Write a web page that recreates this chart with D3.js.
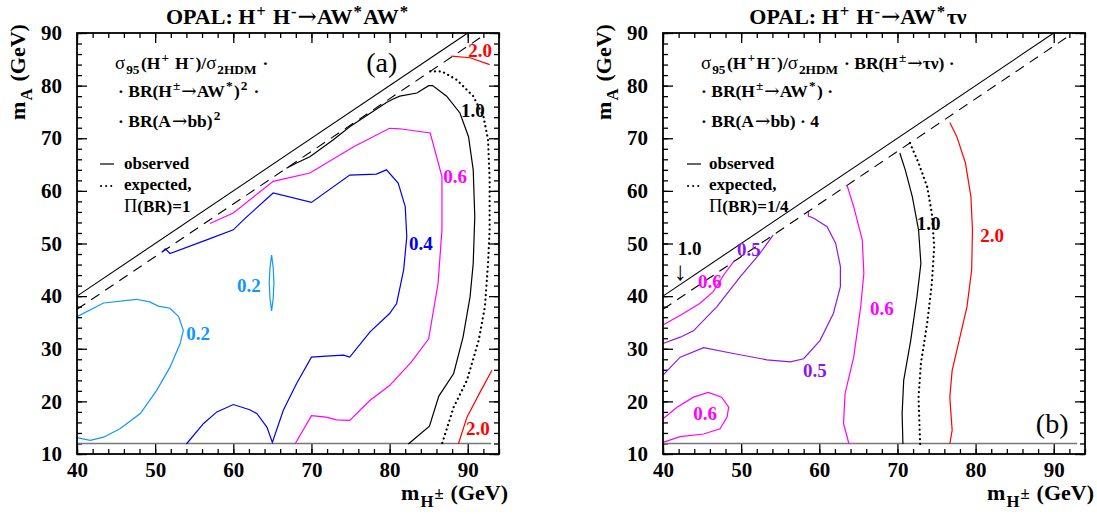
<!DOCTYPE html>
<html><head><meta charset="utf-8">
<script src="https://cdn.jsdelivr.net/npm/d3@7"></script>
<style>
body{margin:0;background:#fff}
text{font-family:"Liberation Serif","Times New Roman",serif}
</style>
</head><body>
<svg id="c" width="1097" height="514" xmlns="http://www.w3.org/2000/svg"></svg>
<script>
// ---------- data (m_H±, m_A) in GeV ----------
const xMajor = [40, 50, 60, 70, 80, 90];
const yMajor = [10, 20, 30, 40, 50, 60, 70, 80, 90];
const xMinor = d3.range(40, 95, 2);
const yMinor = d3.range(10, 91, 2);
const kinLimit = [[40, 40], [90, 90]];
const kinLimitShifted = [[40, 37.5], [92.5, 90]];
const mAmin = [[40, 12], [93, 12]];

// panel (a)
const a_obs10 = [[66.8,64.3],[68.1,65.3],[69.8,66.5],[72.8,69.7],[74.9,72.2],[79.6,76.8],[80.4,77.4],[81.3,78.0],[83.5,78.6],[85.0,80.0],[85.5,80.0],[87.3,78.0],[89.0,74.8],[90.1,70.3],[90.7,64.0],[90.9,55.1],[90.7,46.2],[90.3,39.9],[89.4,32.2],[88.2,25.3],[86.3,21.0],[85.1,15.3],[82.4,11.9]];
const a_exp10 = [[85.2,82.7],[86.7,82.7],[88.6,81.1],[90.7,78.0],[92.0,74.2],[92.6,69.7],[92.8,62.1],[92.8,52.6],[92.6,46.2],[92.2,38.0],[91.4,31.6],[89.9,24.0],[88.2,18.9],[86.7,11.9]];
const a_20top = [[87.9,85.6],[90.3,85.3],[92.8,84.0]];
const a_20bot = [[88.8,11.9],[89.9,17.0],[91.6,21.8],[93.1,25.9]];
const a_06 = [[57.0,53.8],[60.0,55.8],[65.1,61.8],[69.8,63.4],[75.4,68.4],[80.0,71.9],[81.3,71.8],[85.2,71.0],[86.7,62.7],[86.7,52.6],[86.2,42.4],[85.0,31.9],[82.8,27.5],[80.0,23.0],[77.5,20.2],[74.9,16.4],[73.2,16.5],[71.9,17.0],[70.0,17.3],[67.9,11.9]];
const a_04 = [[51.0,48.5],[51.3,49.0],[51.9,48.1],[56.6,50.7],[60.0,52.6],[61.3,54.5],[65.1,59.6],[70.0,57.8],[74.9,63.0],[78.3,63.2],[79.6,64.0],[81.1,61.5],[82.0,57.0],[82.2,51.3],[81.8,45.0],[80.9,38.6],[80.0,36.7],[77.5,33.2],[74.9,28.4],[74.1,28.8],[71.9,28.6],[70.0,28.4],[68.1,23.4],[66.4,18.3],[65.0,12.2],[64.3,15.1],[63.0,17.7],[62.1,18.4],[60.0,19.4],[57.9,18.0],[56.2,15.8],[54.0,11.9]];
const a_02 = [[40,36.1],[43.4,38.7],[47.6,39.4],[49.3,38.9],[50.4,38.1],[51.9,37.7],[53.0,36.1],[53.6,33.5],[53.2,31.0],[51.9,26.5],[50.2,22.1],[48.1,17.7],[45.5,14.8],[43.4,13.2],[41.7,12.6],[40,13.1]];
const a_02island = [[64.9,47.8],[65.1,45.5],[65.2,42.5],[65.1,39.5],[64.9,37.2],[64.7,39.5],[64.6,42.5],[64.7,45.5],[64.9,47.8]];

// panel (b)
const b_06ul = [[40,34.5],[42.6,36.7],[44.7,38.6],[46.4,40.8],[47.9,44.3],[49.2,46.9]];
const b_05ul = [[40,31.0],[42.2,32.2],[43.9,33.4],[46.9,38.0],[49.9,43.7],[52.4,48.1],[54.1,51.6]];
const b_05lo = [[40,25.0],[42.2,28.4],[45.2,30.2],[49.0,29.1],[53.3,27.9],[56.3,27.5],[58.0,28.1],[60.1,31.6],[61.8,36.7],[62.7,41.8],[62.7,45.6],[62.1,50.0],[61.0,53.2],[59.3,54.8],[58.6,55.2],[58.6,56.0]];
const b_06ll = [[40,16.7],[41.8,18.9],[43.9,20.8],[45.8,21.7],[47.5,20.8],[48.4,18.9],[48.2,17.0],[47.3,14.8],[45.2,13.8],[42.2,13.3],[40,12.2]];
const b_06r = [[63.4,61.1],[63.6,60.8],[64.4,57.0],[65.5,50.7],[65.7,44.3],[65.3,38.0],[64.4,28.4],[63.3,21.5],[63.1,15.8],[63.8,11.9]];
const b_obs10 = [[70.3,67.2],[71.0,64.0],[71.9,58.9],[72.7,52.6],[73.0,46.2],[72.5,39.9],[71.7,31.6],[70.8,24.0],[70.6,17.7],[70.7,11.9]];
const b_exp10 = [[71.6,69.1],[72.7,65.3],[73.8,60.8],[74.4,55.8],[74.7,49.4],[74.4,42.4],[73.8,34.8],[73.0,27.2],[72.7,20.8],[72.9,11.9]];
const b_20 = [[76.7,73.0],[77.6,70.3],[78.7,65.3],[79.4,58.9],[79.6,52.6],[79.5,45.0],[78.9,38.0],[77.9,31.6],[77.0,25.9],[76.7,20.8],[77.0,14.5],[76.7,11.9]];

// contour labels: [text, m_H, m_A, colour key]
const a_labels = [["1.0",90.67,74.0,"k"],["0.6",88.37,61.5,"m"],["0.4",84.0,48.8,"b"],["2.0",91.57,85.4,"r"],["2.0",91.3,13.6,"r"],["0.2",55.5,31.7,"c"],["0.2",62.0,40.8,"c"]];
const b_labels = [["0.6",46.0,41.5,"m"],["0.5",51.0,47.6,"p"],["0.5",59.45,24.6,"p"],["0.6",45.4,16.5,"m"],["0.6",68.0,36.4,"m"],["1.0",74.0,52.6,"k"],["2.0",82.1,50.3,"r"]];

const COL = {k:"#000", m:"#ff00ff", b:"#0000ee", r:"#ff0000", c:"#1196ff", p:"#8d17f0"};

// ---------- drawing ----------
const svg = d3.select("#c");
const ARROW = ["→", "arrow"];

function rich(sel, x, y, parts, size, anchor, supShift) {
  const t = sel.append("text").attr("x", x).attr("y", y)
    .attr("font-size", size).attr("font-weight", "bold")
    .attr("text-anchor", anchor || "start");
  let cur = 0, prevScript = false;
  parts.forEach(p => {
    const [s, k, w] = typeof p === "string" ? [p, "n", null] : p;
    const off = k === "sup" ? -(supShift || 0.42) * size : k === "sub" ? 0.3 * size : k === "mid" ? -0.05 * size : 0;
    const ts = t.append("tspan").attr("dy", off - cur).text(s);
    const script = (k === "sup" || k === "sub" || k === "mid");
    if (script) ts.attr("font-size", size * 0.76).attr("dx", 1);
    else if (prevScript) ts.attr("dx", 1.5);
    if (k === "arrow") ts.attr("font-family", '"DejaVu Serif",serif').attr("font-weight", "normal")
      .attr("font-size", size * 1.05).attr("dx", 1);
    if (w) ts.attr("font-weight", w);
    if (w === "normal" && s.match(/[σΠ]/)) ts.attr("font-size", size * 1.08);
    cur = off; prevScript = script;
  });
  return t;
}

function panel(x0, x1, cfg) {
  const x = d3.scaleLinear().domain([40, 94]).range([x0, x1]);
  const y = d3.scaleLinear().domain([10, 90]).range([454, 33]);
  const g = svg.append("g");
  const line = d3.line().x(d => x(d[0])).y(d => y(d[1]));

  const fmt = d3.format("d");
  const axes = [
    [d3.axisBottom(x).tickValues(xMinor).tickSize(-5).tickFormat(""), `translate(0,454)`],
    [d3.axisBottom(x).tickValues(xMajor).tickSize(-10).tickPadding(8).tickFormat(fmt), `translate(0,454)`],
    [d3.axisTop(x).tickValues(xMinor).tickSize(-5).tickFormat(""), `translate(0,33)`],
    [d3.axisTop(x).tickValues(xMajor).tickSize(-10).tickFormat(""), `translate(0,33)`],
    [d3.axisLeft(y).tickValues(yMinor).tickSize(-5).tickFormat(""), `translate(${x0},0)`],
    [d3.axisLeft(y).tickValues(yMajor).tickSize(-10).tickPadding(15).tickFormat(fmt), `translate(${x0},0)`],
    [d3.axisRight(y).tickValues(yMinor).tickSize(-5).tickFormat(""), `translate(${x1},0)`],
    [d3.axisRight(y).tickValues(yMajor).tickSize(-10).tickFormat(""), `translate(${x1},0)`]
  ];
  axes.forEach(([ax, tr]) => {
    const a = g.append("g").attr("transform", tr).call(ax);
    a.select(".domain").remove();
    a.selectAll("line").attr("stroke", "#000").attr("stroke-width", 1.3);
    a.selectAll("text").attr("font-size", 21).attr("font-weight", "bold")
      .attr("font-family", '"Liberation Serif",serif').attr("fill", "#000");
  });

  g.append("path").attr("d", line(mAmin)).attr("fill", "none").attr("stroke", "#777").attr("stroke-width", 1.4);
  g.append("path").attr("d", line(kinLimit)).attr("fill", "none").attr("stroke", "#000").attr("stroke-width", 1.1);
  g.append("path").attr("d", line(kinLimitShifted)).attr("fill", "none").attr("stroke", "#000").attr("stroke-width", 1.1)
    .attr("stroke-dasharray", "10,7");

  cfg.contours.forEach(c => {
    const p = g.append("path").attr("d", line(c.d)).attr("fill", "none")
      .attr("stroke", COL[c.c]).attr("stroke-width", c.dot ? 2.2 : 1.2);
    if (c.dot) p.attr("stroke-dasharray", "0.1,4.6").attr("stroke-linecap", "round");
  });

  cfg.labels.forEach(l => {
    g.append("text").attr("x", x(l[1])).attr("y", y(l[2])).attr("text-anchor", "middle")
      .attr("font-size", 19).attr("font-weight", "bold").attr("fill", COL[l[3]]).text(l[0]);
  });

  g.append("rect").attr("x", x0).attr("y", 33).attr("width", x1 - x0).attr("height", 421)
    .attr("fill", "none").attr("stroke", "#000").attr("stroke-width", 1.8);

  rich(g, x1 + 9, 500, ["m", ["H", "sub"], ["±", "mid"], " (GeV)"], 22, "end");
  const yl = g.append("g").attr("transform", `translate(${x0 - 52},72) rotate(-90)`);
  rich(yl, 0, 0, ["m", ["A", "sub"], " (GeV)"], 22, "middle");
  return {x, y, g};
}

// ----- panel a -----
const A = panel(77, 499, {
  contours: [
    {d: a_obs10, c: "k"}, {d: a_exp10, c: "k", dot: true}, {d: a_20top, c: "r"}, {d: a_20bot, c: "r"},
    {d: a_06, c: "m"}, {d: a_04, c: "b"}, {d: a_02, c: "c"}, {d: a_02island, c: "c"}
  ],
  labels: a_labels
});
rich(svg, 287, 24, ["OPAL: H", ["+", "sup"], " H", ["-", "sup"], ARROW, "AW", ["*", "sup"], "AW", ["*", "sup"]], 22, "middle", 0.33);
rich(svg, 115, 69, [["σ", "n", "normal"], ["95", "sub"], "(H", ["+", "sup"], " H", ["-", "sup"], ")/", ["σ", "n", "normal"], ["2HDM", "sub"], " ·"], 17.5);
rich(svg, 118, 97, ["· BR(H", ["±", "sup"], ARROW, "AW", ["*", "sup"], ")", ["2", "sup"], " ·"], 17.5);
rich(svg, 118, 127, ["· BR(A", ARROW, "bb)", ["2", "sup"]], 17.5);
svg.append("line").attr("x1", 100).attr("x2", 114).attr("y1", 164).attr("y2", 164).attr("stroke", "#000").attr("stroke-width", 1.2);
svg.append("line").attr("x1", 101).attr("x2", 114).attr("y1", 186).attr("y2", 186).attr("stroke", "#000").attr("stroke-width", 2).attr("stroke-dasharray", "0.1,5").attr("stroke-linecap", "round");
rich(svg, 124, 169, ["observed"], 17);
rich(svg, 124, 190, ["expected,"], 17);
rich(svg, 124, 212, [["Π", "n", "normal"], "(BR)=1"], 17);
svg.append("text").attr("x", A.x(79.0)).attr("y", A.y(82.6)).attr("text-anchor", "middle")
  .attr("font-size", 28).attr("font-weight", "normal").text("(a)");

// ----- panel b -----
const B = panel(663, 1085, {
  contours: [
    {d: b_obs10, c: "k"}, {d: b_exp10, c: "k", dot: true}, {d: b_20, c: "r"},
    {d: b_06ul, c: "m"}, {d: b_06ll, c: "m"}, {d: b_06r, c: "m"},
    {d: b_05ul, c: "p"}, {d: b_05lo, c: "p"}
  ],
  labels: b_labels
});
rich(svg, 858, 24, ["OPAL: H", ["+", "sup"], " H", ["-", "sup"], ARROW, "AW", ["*", "sup"], "τν"], 22, "middle", 0.33);
rich(svg, 701, 69, [["σ", "n", "normal"], ["95", "sub"], "(H", ["+", "sup"], "H", ["-", "sup"], ")/", ["σ", "n", "normal"], ["2HDM", "sub"], " · BR(H", ["±", "sup"], ARROW, "τν) ·"], 17.5);
rich(svg, 701, 97, ["· BR(H", ["±", "sup"], ARROW, "AW", ["*", "sup"], ") ·"], 17.5);
rich(svg, 701, 127, ["· BR(A", ARROW, "bb) · 4"], 17.5);
svg.append("line").attr("x1", 687).attr("x2", 701).attr("y1", 164).attr("y2", 164).attr("stroke", "#000").attr("stroke-width", 1.2);
svg.append("line").attr("x1", 688).attr("x2", 701).attr("y1", 186).attr("y2", 186).attr("stroke", "#000").attr("stroke-width", 2).attr("stroke-dasharray", "0.1,5").attr("stroke-linecap", "round");
rich(svg, 709, 169, ["observed"], 17);
rich(svg, 709, 190, ["expected,"], 17);
rich(svg, 709, 212, [["Π", "n", "normal"], "(BR)=1/4"], 17);
svg.append("text").attr("x", B.x(89.8)).attr("y", B.y(14.0)).attr("text-anchor", "middle")
  .attr("font-size", 28).attr("font-weight", "normal").text("(b)");
svg.append("text").attr("x", B.x(41.9)).attr("y", B.y(47.8)).attr("font-size", 19).attr("font-weight", "bold").text("1.0");
svg.append("text").attr("x", B.x(42.2)).attr("y", B.y(43.0)).attr("text-anchor", "middle")
  .attr("font-family", '"DejaVu Sans",sans-serif').attr("font-size", 26).text("↓");
</script>
</body></html>
